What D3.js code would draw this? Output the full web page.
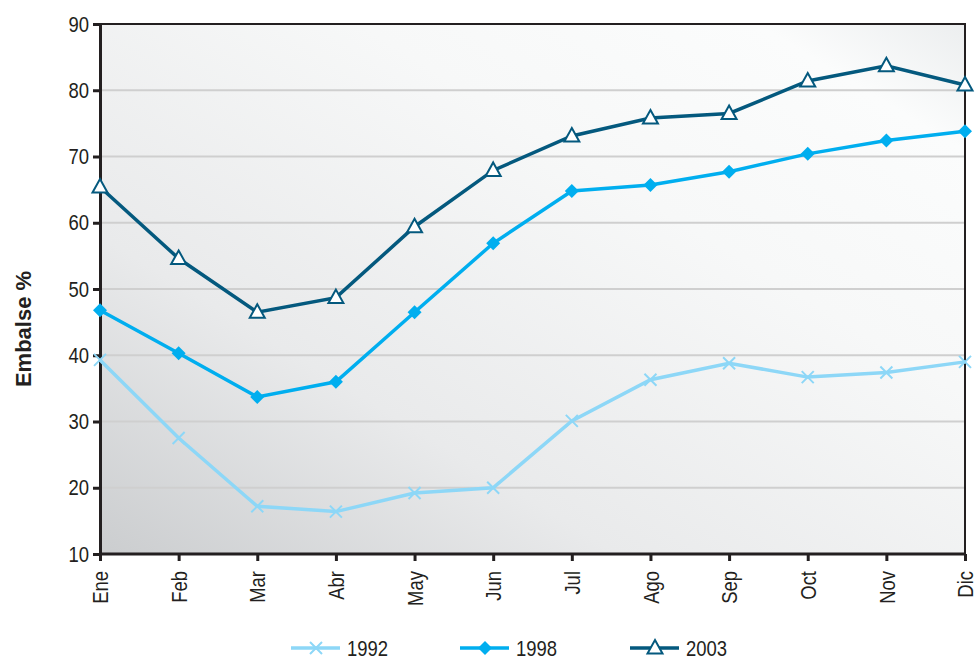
<!DOCTYPE html>
<html>
<head>
<meta charset="utf-8">
<script src="https://cdn.jsdelivr.net/npm/d3@7"></script>
<style>
  body { margin: 0; background: #fff; }
  svg text { font-family: "Liberation Sans", Arial, sans-serif; fill: #231f20; }
</style>
</head>
<body>
<svg id="chart" width="978" height="662"></svg>
<script>
'use strict';

const months = ['Ene', 'Feb', 'Mar', 'Abr', 'May', 'Jun', 'Jul', 'Ago', 'Sep', 'Oct', 'Nov', 'Dic'];
const yTicks = [10, 20, 30, 40, 50, 60, 70, 80, 90];
const values1992 = [39.3, 27.5, 17.2, 16.4, 19.2, 20.0, 30.1, 36.3, 38.8, 36.7, 37.4, 39.0];
const values1998 = [46.8, 40.3, 33.7, 36.0, 46.5, 56.9, 64.8, 65.7, 67.7, 70.4, 72.4, 73.8];
const values2003 = [65.4, 54.6, 46.5, 48.7, 59.4, 67.9, 73.1, 75.8, 76.5, 81.4, 83.7, 80.8];

const series = [
  { name: '1992', values: values1992, color: '#8dd7f7', marker: 'x' },
  { name: '1998', values: values1998, color: '#00aeef', marker: 'diamond' },
  { name: '2003', values: values2003, color: '#04597e', marker: 'triangle' }
];

const margin = { top: 24, right: 13, bottom: 108, left: 100 };
const width = 978, height = 662;
const squeeze = 0.84;   // narrow the font like the condensed original
const svg = d3.select('#chart');

const x = d3.scalePoint().domain(months).range([margin.left, width - margin.right]);
const y = d3.scaleLinear().domain([10, 90]).range([height - margin.bottom, margin.top]);

// background gradient
const defs = svg.append('defs');
const grad = defs.append('linearGradient').attr('id', 'bg')
  .attr('x1', '0%').attr('y1', '100%').attr('x2', '100%').attr('y2', '0%');
grad.append('stop').attr('offset', '0%').attr('stop-color', '#cbcdcf');
grad.append('stop').attr('offset', '30%').attr('stop-color', '#e9eaeb');
grad.append('stop').attr('offset', '65%').attr('stop-color', '#f7f8f8');
grad.append('stop').attr('offset', '88%').attr('stop-color', '#fbfcfc');
grad.append('stop').attr('offset', '100%').attr('stop-color', '#eceeef');

svg.append('rect')
  .attr('x', x('Ene')).attr('y', y(90))
  .attr('width', x('Dic') - x('Ene')).attr('height', y(10) - y(90))
  .attr('fill', 'url(#bg)');

// gridlines
svg.append('g').selectAll('line')
  .data(yTicks.filter(d => d > 10 && d < 90))
  .join('line')
  .attr('x1', x('Ene')).attr('x2', x('Dic'))
  .attr('y1', d => y(d)).attr('y2', d => y(d))
  .attr('stroke', '#cfcfcf').attr('stroke-width', 2);

// box top/right
svg.append('path')
  .attr('d', `M${x('Ene')},${y(90)}H${x('Dic')}V${y(10)}`)
  .attr('fill', 'none').attr('stroke', '#231f20').attr('stroke-width', 2);

// y axis
const yAxis = svg.append('g')
  .attr('transform', `translate(${x('Ene')},0)`)
  .call(d3.axisLeft(y).tickValues(yTicks).tickSize(7));
yAxis.select('.domain').attr('stroke', '#231f20').attr('stroke-width', 3);
yAxis.selectAll('.tick line').attr('stroke', '#231f20').attr('stroke-width', 3);
yAxis.selectAll('.tick text')
  .attr('font-size', 22)
  .style('font-family', '"Liberation Sans", Arial, sans-serif')
  .attr('fill', '#231f20')
  .attr('x', 0)
  .attr('transform', `translate(-11,0) scale(${squeeze},1)`);

// x axis
const xAxis = svg.append('g')
  .attr('transform', `translate(0,${y(10)})`)
  .call(d3.axisBottom(x).tickSize(7));
xAxis.select('.domain').attr('stroke', '#231f20').attr('stroke-width', 3).attr('d', `M${x('Ene')},0H${x('Dic')}`);
xAxis.selectAll('.tick line').attr('stroke', '#231f20').attr('stroke-width', 3);
xAxis.selectAll('.tick text')
  .attr('font-size', 22)
  .style('font-family', '"Liberation Sans", Arial, sans-serif')
  .attr('fill', '#231f20')
  .attr('text-anchor', 'end')
  .attr('dy', '0.35em')
  .attr('x', 0).attr('y', 0)
  .attr('transform', `translate(0,17) rotate(-90) scale(${squeeze},1)`);

// y label
svg.append('text')
  .attr('transform', `translate(31,${(y(10) + y(90)) / 2 + 40}) rotate(-90)`)
  .attr('text-anchor', 'middle')
  .attr('font-size', 22).attr('font-weight', 'bold')
  .text('Embalse %');

function drawMarker(g, type, color) {
  if (type === 'x') {
    g.append('path').attr('d', 'M-6,-6L6,6M-6,6L6,-6')
      .attr('stroke', color).attr('stroke-width', 2).attr('fill', 'none');
  } else if (type === 'diamond') {
    g.append('path').attr('d', 'M0,-7L7,0L0,7L-7,0Z').attr('fill', color);
  } else {
    g.append('path').attr('d', 'M0,-8L7.5,5.5L-7.5,5.5Z')
      .attr('fill', '#fff').attr('stroke', color).attr('stroke-width', 2);
  }
}

const line = d3.line().x((d, i) => x(months[i])).y(d => y(d));

series.forEach(s => {
  svg.append('path')
    .datum(s.values)
    .attr('fill', 'none')
    .attr('stroke', s.color)
    .attr('stroke-width', 3.5)
    .attr('d', line);
  s.values.forEach((v, i) => {
    const g = svg.append('g').attr('transform', `translate(${x(months[i])},${y(v)})`);
    drawMarker(g, s.marker, s.color);
  });
});

// legend
const legendX = [291, 460, 630];
series.forEach((s, i) => {
  const g = svg.append('g').attr('transform', `translate(${legendX[i]},648)`);
  g.append('line').attr('x1', 0).attr('x2', 49).attr('y1', 0).attr('y2', 0)
    .attr('stroke', s.color).attr('stroke-width', 3.5);
  const m = g.append('g').attr('transform', 'translate(25,0)');
  drawMarker(m, s.marker, s.color);
  g.append('text')
    .attr('transform', `translate(56,0) scale(${squeeze},1)`)
    .attr('dy', '0.36em')
    .attr('font-size', 22).text(s.name);
});
</script>
</body>
</html>
